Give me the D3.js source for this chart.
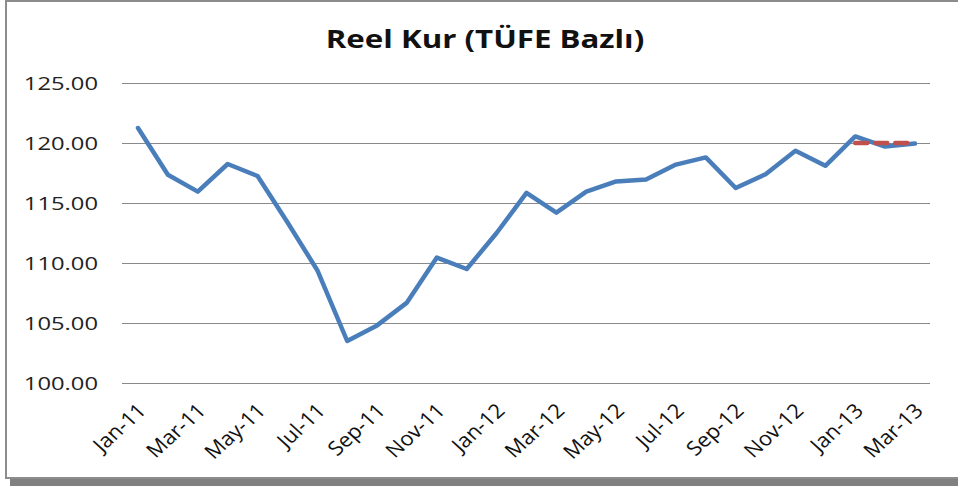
<!DOCTYPE html>
<html><head><meta charset="utf-8">
<script src="https://cdn.jsdelivr.net/npm/d3@7/dist/d3.min.js"></script>
<style>body{margin:0;background:#fff}svg{display:block}</style>
</head><body>
<svg id="c" width="958" height="486"></svg>
<script>
const months = ["Jan-11","Feb-11","Mar-11","Apr-11","May-11","Jun-11","Jul-11","Aug-11","Sep-11","Oct-11","Nov-11","Dec-11",
"Jan-12","Feb-12","Mar-12","Apr-12","May-12","Jun-12","Jul-12","Aug-12","Sep-12","Oct-12","Nov-12","Dec-12",
"Jan-13","Feb-13","Mar-13"];
const reelKur = [121.25,117.35,115.95,118.25,117.25,113.4,109.4,103.5,104.8,106.7,110.45,109.5,
112.5,115.85,114.2,115.95,116.8,116.95,118.2,118.8,116.25,117.4,119.35,118.1,
120.55,119.7,119.95];
const targetMonths = ["Jan-13","Feb-13","Mar-13"];
const targetValues = [120.0,120.0,120.0];
const yTicks = [100,105,110,115,120,125];
const xTickLabels = months.filter((d,i)=>i%2===0);
const title = "Reel Kur (TÜFE Bazlı)";

const svg = d3.select("#c");
const W=958,H=486;
const SX = 1.25;
// frame + shadow
svg.append("rect").attr("x",10).attr("y",479).attr("width",W-10).attr("height",7).attr("fill","#808080");
svg.append("rect").attr("x",6).attr("y",1).attr("width",W+10).attr("height",477).attr("fill","#fff").attr("stroke","#8c8c8c").attr("stroke-width",2);

const x = d3.scalePoint().domain(months).range([138,915]);
const y = d3.scaleLinear().domain([100,125]).range([383,83]);
const font = "'Open Sans', sans-serif";

// gridlines
svg.append("g").selectAll("line").data(yTicks).join("line")
  .attr("x1",122).attr("x2",930).attr("y1",d=>Math.round(y(d))+0.5).attr("y2",d=>Math.round(y(d))+0.5)
  .attr("stroke","#8a8a8a").attr("stroke-width",1);

// y labels
svg.append("g").selectAll("text").data(yTicks).join("text")
  .attr("transform",d=>`translate(98,${y(d)}) scale(${SX},1)`)
  .attr("text-anchor","end").attr("dy","0.36em")
  .attr("font-family",font).attr("font-size",19).attr("fill","#222")
  .text(d=>d3.format(".2f")(d));

// x labels
svg.append("g").selectAll("text").data(xTickLabels).join("text")
  .attr("transform",d=>`translate(${x(d)+4},${407}) scale(1.1,1) rotate(-45)`)
  .attr("text-anchor","end").attr("dy","0.35em")
  .attr("font-family",font).attr("font-size",20).attr("fill","#111")
  .text(d=>d);

// title
svg.append("text").attr("transform",`translate(485,48) scale(${SX},1)`).attr("text-anchor","middle")
  .attr("font-family",font).attr("font-weight","bold").attr("font-size",25).attr("fill","#111")
  .text(title);

const line = d3.line().x(d=>x(d[0])).y(d=>y(d[1]));
svg.append("path").datum(months.map((m,i)=>[m,reelKur[i]]))
  .attr("d",line).attr("fill","none").attr("stroke","#4A7EBB").attr("stroke-width",4.5)
  .attr("stroke-linejoin","round").attr("stroke-linecap","round");
svg.append("path").datum(targetMonths.map((m,i)=>[m,targetValues[i]]))
  .attr("d",line).attr("fill","none").attr("stroke","#C0504D").attr("stroke-width",4.5)
  .attr("stroke-dasharray","12,8").attr("stroke-linecap","round");
</script>
</body></html>
